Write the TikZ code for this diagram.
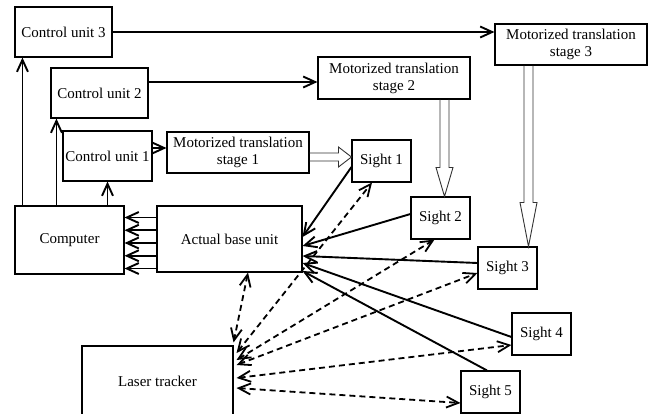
\documentclass[tikz,border=0pt]{standalone}
\usepackage{fontspec}
\setmainfont{Liberation Serif}
\usetikzlibrary{arrows.meta,calc}
\tikzset{
  box/.style={draw, line width=1.1pt, inner sep=0pt, align=center, font=\fontsize{15}{17}\selectfont},
  conn/.style={line width=1.9pt, -{Straight Barb[length=12pt,width=11pt]}},
  dconn/.style={line width=1.8pt, dash pattern=on 6pt off 4pt,
     {Straight Barb[length=12pt,width=11pt]}-{Straight Barb[length=12pt,width=11pt]}},
  hollow/.style={line width=0.9pt, draw=black!80}
}
\begin{document}
\begin{tikzpicture}[x=1pt,y=-1pt]
\useasboundingbox[fill=white] (0,0) rectangle (655,413);
% boxes
\node[box, minimum width=97, minimum height=50] (cu3) at (63.5,32) {Control unit 3};
\node[box, minimum width=97, minimum height=50] (cu2) at (99.5,93) {Control unit 2};
\node[box, minimum width=89, minimum height=50] (cu1) at (107.5,156) {Control unit 1};
\node[box, minimum width=142, minimum height=41] (mts1) at (238,152.5) {Motorized translation\\stage 1};
\node[box, minimum width=152, minimum height=42] (mts2) at (394,78) {Motorized translation\\stage 2};
\node[box, minimum width=152, minimum height=41] (mts3) at (571,44.5) {Motorized translation\\stage 3};
\node[box, minimum width=59, minimum height=42] (s1) at (381.5,161) {Sight 1};
\node[box, minimum width=59, minimum height=42] (s2) at (440.5,218) {Sight 2};
\node[box, minimum width=59, minimum height=42] (s3) at (507.5,268) {Sight 3};
\node[box, minimum width=59, minimum height=42] (s4) at (541.5,334) {Sight 4};
\node[box, minimum width=59, minimum height=42] (s5) at (490.5,392) {Sight 5};
\node[box, minimum width=109, minimum height=68] (comp) at (69.5,240) {Computer};
\node[box, minimum width=145, minimum height=66] (base) at (229.5,239) {Actual base unit};
\node[box, minimum width=151, minimum height=70] (lt) at (157.5,381) {Laser tracker};

% computer to control units
\draw[conn] ([xshift=8pt]comp.north west) -- ([xshift=8pt]cu3.south west);
\coordinate (c2b) at ([xshift=6pt]cu2.south west);
\draw[conn] (c2b |- comp.north) -- (c2b);
\draw[conn] (cu1.south |- comp.north) -- (cu1.south);

% control units to stages
\draw[conn] (cu3.east) -- (cu3.east -| mts3.west);
\coordinate (m2in) at ([yshift=-4pt]mts2.west);
\draw[conn] (cu2.east |- m2in) -- (m2in);
\coordinate (m1in) at ([yshift=4.5pt]mts1.west);
\draw[conn] (cu1.east |- m1in) -- (m1in);

% hollow arrows
\coordinate (h1t) at ([yshift=4pt]s1.west);
\coordinate (h1s) at (mts1.east |- h1t);
\draw[hollow] let \p1=(h1s), \p2=(h1t) in
  (\x1,\y1+4pt) -- (\x2-13pt,\y1+4pt) -- (\x2-13pt,\y1+10pt) -- (\x2,\y2)
  -- (\x2-13pt,\y1-10pt) -- (\x2-13pt,\y1-4pt) -- (\x1,\y1-4pt);
\coordinate (h2t) at ([xshift=4pt]s2.north);
\coordinate (h2s) at (h2t |- mts2.south);
\draw[hollow] let \p1=(h2s), \p2=(h2t) in
  (\x1-4.5pt,\y1) -- (\x1-4.5pt,\y2+29pt) -- (\x1-8.5pt,\y2+29pt) -- (\x2,\y2)
  -- (\x1+8.5pt,\y2+29pt) -- (\x1+4.5pt,\y2+29pt) -- (\x1+4.5pt,\y1);
\coordinate (h3t) at ([xshift=21pt]s3.north);
\coordinate (h3s) at (h3t |- mts3.south);
\draw[hollow] let \p1=(h3s), \p2=(h3t) in
  (\x1-4.5pt,\y1) -- (\x1-4.5pt,\y2+44pt) -- (\x1-8.5pt,\y2+44pt) -- (\x2,\y2)
  -- (\x1+8.5pt,\y2+44pt) -- (\x1+4.5pt,\y2+44pt) -- (\x1+4.5pt,\y1);

% base unit to computer
\foreach \k in {-2,...,2}{
  \pgfmathsetmacro\dy{-4-\k*12.75}
  \coordinate (bw) at ([yshift=\dy pt]base.west);
  \draw[conn] (bw) -- (bw -| comp.east);
}

% sights to base unit
\draw[conn] ([yshift=-6pt]s1.west) -- ([yshift=2pt]base.east);
\draw[conn] ([yshift=4pt]s2.west) -- ([yshift=-7pt]base.east);
\draw[conn] ([yshift=5pt]s3.west) -- ([yshift=-17pt]base.east);
\draw[conn] ([yshift=-3pt]s4.west) -- ([yshift=-24pt]base.east);
\draw[conn] ([xshift=-3.5pt]s5.north) -- ([yshift=-32pt]base.east);

% laser tracker dashed links
\draw[dconn] ([xshift=18.5pt]base.south) -- ([yshift=3pt]lt.north east);
\draw[dconn] ([xshift=3pt,yshift=28pt]lt.east) -- ([xshift=-9.5pt]s1.south);
\draw[dconn] ([xshift=3pt,yshift=21pt]lt.east) -- ([xshift=-6pt]s2.south);
\draw[dconn] ([xshift=3pt,yshift=16pt]lt.east) -- ([yshift=-5pt]s3.west);
\draw[dconn] ([xshift=3pt,yshift=3pt]lt.east) -- ([yshift=-11pt]s4.west);
\draw[dconn] ([xshift=3pt,yshift=-7pt]lt.east) -- ([yshift=-11pt]s5.west);
\end{tikzpicture}
\end{document}
